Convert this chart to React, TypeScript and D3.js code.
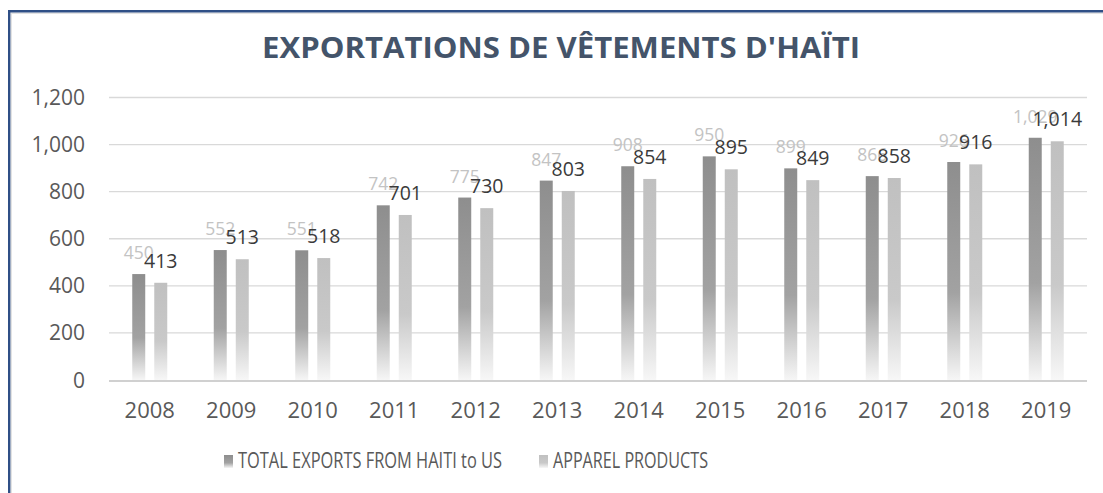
import React from 'react';
import { scaleBand, scaleLinear } from 'd3';

const years = ['2008', '2009', '2010', '2011', '2012', '2013', '2014', '2015', '2016', '2017', '2018', '2019'];
const totalExports = [450, 552, 551, 742, 775, 847, 908, 950, 899, 866, 926, 1029];
const apparelProducts = [413, 513, 518, 701, 730, 803, 854, 895, 849, 858, 916, 1014];
const yTicks = [0, 200, 400, 600, 800, 1000, 1200];
const seriesNames = ['TOTAL EXPORTS FROM HAITI to US', 'APPAREL PRODUCTS'];

const W = 1103;
const H = 493;
const font = "'Open Sans', 'DejaVu Sans', sans-serif";
const fmt = (v: number) => v.toLocaleString('en-US');

const App = () => {
  const x0 = scaleBand().domain(years).range([109, 1087]).padding(0);
  const bw = x0.bandwidth();
  const x1 = scaleBand()
    .domain(seriesNames)
    .range([bw / 2 - 17.5, bw / 2 + 17.5])
    .paddingInner(0.41);
  const y = scaleLinear().domain([0, 1200]).range([380, 97.5]);

  const series = [
    { name: seriesNames[0], values: totalExports, grad: 'gDark', label: '#c3c3c3', size: 17.5 },
    { name: seriesNames[1], values: apparelProducts, grad: 'gLight', label: '#3a3a3a', size: 19.5 },
  ];

  return (
    <div style={{ position: 'fixed', left: 0, top: 0 }}>
      <svg width={W} height={H} style={{ display: 'block', background: '#fff' }}>
        <defs>
          <linearGradient id="gDark" x1="0" y1="0" x2="0" y2="1">
            <stop offset="0" stopColor="#8e8e8e" />
            <stop offset="0.6" stopColor="#a2a2a2" />
            <stop offset="1" stopColor="#f6f6f6" />
          </linearGradient>
          <linearGradient id="gLight" x1="0" y1="0" x2="0" y2="1">
            <stop offset="0" stopColor="#c0c0c0" />
            <stop offset="0.6" stopColor="#c9c9c9" />
            <stop offset="1" stopColor="#f7f7f7" />
          </linearGradient>
        </defs>

        {/* frame: only the top and left edges show */}
        <line x1={11} x2={W} y1={13.2} y2={13.2} stroke="#e2e2e2" strokeWidth={1.5} />
        <line x1={11.2} x2={11.2} y1={13} y2={H} stroke="#e2e2e2" strokeWidth={1.5} />
        <line x1={8} x2={W} y1={11.2} y2={11.2} stroke="#2f4f86" strokeWidth={2.4} />
        <line x1={9.2} x2={9.2} y1={10} y2={H} stroke="#2f4f86" strokeWidth={2.4} />

        <text
          x={561}
          y={58}
          textAnchor="middle"
          fontFamily={font}
          fontWeight={700}
          fontSize={28.5}
          fill="#44546a"
          textLength={598}
          lengthAdjust="spacingAndGlyphs"
        >
          EXPORTATIONS DE VÊTEMENTS D'HAÏTI
        </text>

        {yTicks.map((t) => (
          <g key={t}>
            {t > 0 && (
              <line x1={109} x2={1087} y1={y(t)} y2={y(t)} stroke="#d9d9d9" strokeWidth={1.3} />
            )}
            <text x={85} y={y(t) + 7.5} textAnchor="end" fontFamily={font} fontSize={21} fill="#595959">
              {fmt(t)}
            </text>
          </g>
        ))}

        {series.map((s) =>
          s.values.map((v, i) => (
            <rect
              key={s.name + i}
              x={(x0(years[i]) ?? 0) + (x1(s.name) ?? 0)}
              y={y(v)}
              width={x1.bandwidth()}
              height={y(0) - y(v)}
              fill={`url(#${s.grad})`}
            />
          ))
        )}

        <line x1={109} x2={1087} y1={y(0) + 1} y2={y(0) + 1} stroke="#d0d0d0" strokeWidth={1.8} />

        {series.map((s) =>
          s.values.map((v, i) => (
            <text
              key={'l' + s.name + i}
              x={(x0(years[i]) ?? 0) + (x1(s.name) ?? 0) + x1.bandwidth() / 2}
              y={y(v) - 15}
              textAnchor="middle"
              fontFamily={font}
              fontSize={s.size}
              fill={s.label}
            >
              {fmt(v)}
            </text>
          ))
        )}

        {years.map((yr) => (
          <text
            key={yr}
            x={(x0(yr) ?? 0) + bw / 2}
            y={418}
            textAnchor="middle"
            fontFamily={font}
            fontSize={22}
            fill="#595959"
          >
            {yr}
          </text>
        ))}

        {series.map((s, i) => {
          const sx = i === 0 ? 224 : 539;
          const tl = i === 0 ? 264 : 155;
          return (
            <g key={'lg' + i}>
              <rect x={sx} y={455} width={9} height={13} fill={`url(#${s.grad})`} />
              <text
                x={sx + 14}
                y={468}
                fontFamily={font}
                fontSize={21.5}
                fill="#595959"
                textLength={tl}
                lengthAdjust="spacingAndGlyphs"
              >
                {s.name}
              </text>
            </g>
          );
        })}
      </svg>
    </div>
  );
};

export default App;
